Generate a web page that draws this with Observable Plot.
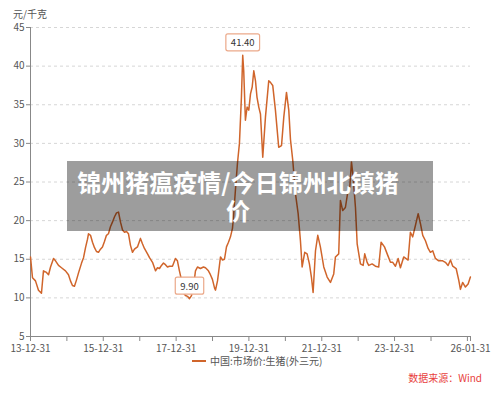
<!DOCTYPE html>
<html><head><meta charset="utf-8">
<script src="https://cdn.jsdelivr.net/npm/d3@7"></script>
<script src="https://cdn.jsdelivr.net/npm/@observablehq/plot@0.6"></script>
<style>
body{margin:0;background:#fff;font-family:"Noto Sans CJK SC","Noto Sans",sans-serif;}
#wrap{position:relative;width:500px;height:393px;overflow:hidden;background:#fff;}
#chart{position:absolute;left:0;top:0;}
#unit{position:absolute;left:13px;top:9px;font-size:10px;line-height:10px;color:#555;}
#legend{position:absolute;left:192px;top:355px;font-size:10px;line-height:12px;color:#555;white-space:nowrap;}
#legend .sw{display:inline-block;width:14px;height:2px;background:#d0652b;vertical-align:middle;margin-right:4px;position:relative;top:-1px;}
#source{position:absolute;right:18px;top:372px;font-size:10px;line-height:12px;color:#e8413c;}
#overlay{position:absolute;left:67px;top:161px;width:366px;height:70px;background:rgba(0,0,0,0.385);}
.tline{position:absolute;left:67px;width:342px;text-align:center;color:#fff;font-weight:bold;font-size:24px;line-height:24px;height:24px;white-space:nowrap;}
#t1{top:170px;}
#t2{top:198px;}
</style></head>
<body>
<div id="wrap">
  <div id="chart"></div>
  <div id="unit">元/千克</div>
  <div id="legend"><span class="sw"></span>中国:市场价:生猪(外三元)</div>
  <div id="source">数据来源：Wind</div>
  <div id="overlay"></div>
  <div class="tline" id="t1">锦州猪瘟疫情/今日锦州北镇猪</div>
  <div class="tline" id="t2">价</div>
</div>
<script>
const series = [
  ["2013-12-31",15.3],
  ["2014-01-20",12.6],["2014-02-19",12.2],["2014-03-21",11.0],["2014-04-20",10.6],["2014-05-10",13.5],["2014-06-09",13.3],
  ["2014-06-30",13.0],["2014-07-20",14.0],["2014-08-19",15.1],["2014-09-08",14.8],["2014-10-08",14.2],["2014-11-07",13.9],["2014-12-17",13.5],
  ["2015-01-16",13.0],["2015-02-05",12.2],["2015-02-25",11.6],["2015-03-17",11.5],["2015-04-06",12.3],["2015-04-26",13.2],
  ["2015-05-27",14.5],["2015-06-16",15.2],["2015-07-06",16.5],["2015-07-26",17.6],["2015-08-05",18.3],["2015-08-25",18.1],
  ["2015-09-14",17.2],["2015-10-04",16.5],["2015-10-24",16.0],["2015-11-13",15.9],["2015-12-03",16.3],["2015-12-23",16.6],
  ["2016-01-12",17.3],["2016-02-01",18.1],["2016-02-21",18.3],["2016-03-12",19.2],["2016-04-01",19.8],["2016-04-22",20.5],
  ["2016-05-12",21.0],["2016-06-01",21.1],["2016-06-21",19.8],["2016-07-11",18.8],["2016-07-31",18.5],["2016-08-20",18.6],
  ["2016-09-09",18.3],["2016-09-29",16.8],["2016-10-19",15.9],["2016-11-08",16.3],["2016-12-08",16.6],
  ["2017-01-07",17.7],["2017-01-27",17.0],["2017-02-16",16.4],["2017-03-19",15.7],["2017-04-08",15.2],["2017-05-08",14.6],
  ["2017-06-07",13.5],["2017-06-27",13.9],["2017-07-17",13.8],["2017-08-06",14.2],["2017-08-26",14.5],["2017-09-15",14.3],
  ["2017-10-05",14.0],["2017-10-25",14.1],["2017-11-24",14.1],["2017-12-24",15.1],
  ["2018-01-13",14.8],["2018-02-02",13.5],["2018-02-23",12.3],["2018-03-15",10.6],["2018-04-04",10.3],["2018-04-24",10.2],
  ["2018-05-14",9.9],["2018-06-03",10.3],["2018-06-23",11.5],["2018-07-13",13.5],["2018-08-02",14.0],["2018-09-01",13.8],
  ["2018-10-01",14.0],["2018-10-21",13.9],["2018-11-20",13.5],["2018-12-10",13.0],["2018-12-30",12.4],
  ["2019-01-20",11.3],["2019-01-30",11.0],["2019-02-19",12.2],["2019-03-01",13.2],["2019-03-21",15.3],["2019-04-10",14.9],
  ["2019-04-30",15.0],["2019-05-20",16.6],["2019-06-09",17.2],["2019-06-29",17.9],["2019-07-19",19.0],["2019-07-29",20.4],
  ["2019-08-18",24.0],["2019-09-07",27.4],["2019-09-27",30.0],["2019-10-07",33.0],["2019-10-17",36.0],["2019-10-30",41.4],
  ["2019-11-09",39.4],["2019-11-26",33.0],["2019-12-13",34.7],["2019-12-30",34.3],
  ["2020-01-16",36.4],["2020-02-02",37.3],["2020-02-18",39.4],["2020-03-06",38.1],["2020-03-21",36.0],["2020-04-08",34.7],
  ["2020-04-25",33.8],["2020-05-18",28.2],["2020-06-14",33.4],["2020-07-17",38.1],["2020-08-03",37.9],["2020-08-26",37.5],
  ["2020-09-22",34.3],["2020-10-25",29.5],["2020-11-22",29.7],["2020-12-15",33.4],
  ["2021-01-11",36.6],["2021-02-03",34.3],["2021-02-20",30.5],["2021-03-15",27.8],["2021-04-11",23.5],["2021-05-08",20.9],
  ["2021-05-31",17.4],["2021-06-17",14.0],["2021-07-13",15.9],["2021-08-06",15.7],["2021-08-29",14.4],["2021-09-18",12.7],
  ["2021-10-05",10.7],["2021-10-29",16.1],["2021-11-21",18.1],["2021-12-17",16.6],
  ["2022-01-20",14.0],["2022-02-23",12.7],["2022-03-28",12.0],["2022-04-30",13.1],["2022-05-17",15.3],["2022-06-19",15.7],
  ["2022-07-06",22.6],["2022-07-29",21.3],["2022-08-25",21.7],["2022-09-18",23.7],["2022-10-08",24.3],["2022-10-25",27.6],
  ["2022-11-11",25.6],["2022-12-04",21.7],["2022-12-21",17.0],
  ["2023-01-23",14.4],["2023-02-19",14.2],["2023-03-07",15.7],["2023-03-31",14.6],["2023-04-16",14.2],["2023-05-20",14.4],
  ["2023-06-22",14.1],["2023-07-25",14.0],["2023-08-18",17.2],["2023-09-21",16.6],["2023-10-24",15.5],["2023-11-20",14.6],
  ["2023-12-13",14.6],
  ["2024-01-09",14.1],["2024-02-05",15.1],["2024-02-28",13.9],["2024-04-01",15.3],["2024-05-15",14.9],["2024-06-07",18.5],
  ["2024-06-30",17.9],["2024-07-28",19.4],["2024-08-24",20.9],["2024-09-16",19.6],["2024-10-09",18.1],["2024-11-05",17.4],
  ["2024-12-02",16.4],["2024-12-25",15.9],
  ["2025-01-17",16.1],["2025-02-13",15.1],["2025-03-18",14.8],["2025-04-27",14.8],["2025-05-24",14.6],["2025-06-20",14.2],
  ["2025-07-14",14.9],["2025-08-06",14.1],["2025-09-09",13.8],["2025-10-05",12.3],["2025-10-22",11.1],["2025-11-13",12.0],
  ["2025-12-11",11.4],
  ["2026-01-07",11.8],["2026-01-30",12.7]
];
const xLabelTicks = ["2013-12-31","2015-12-31","2017-12-31","2019-12-31","2021-12-31","2023-12-31","2026-01-31"];
const xMinorTicks = ["2014-12-31","2016-12-31","2018-12-31","2020-12-31","2022-12-31","2024-12-31","2025-12-31"];
const xDomain = ["2013-12-31","2026-01-31"];
const yTicks = [5,10,15,20,25,30,35,40,45];
const yGridTicks = [10,15,20,25,30,35,40,45];

const lineColor = "#d0652b";
const data = series.map(([d,v]) => ({date: new Date(d), value: v}));
const maxPt = data.reduce((a,b) => b.value > a.value ? b : a);
const minPt = data.reduce((a,b) => b.value < a.value ? b : a);
const fmt = d3.utcFormat("%y-%m-%d");

const chart = Plot.plot({
  width: 500, height: 355,
  marginTop: 27, marginBottom: 19, marginLeft: 30, marginRight: 30,
  style: {fontFamily: '"Noto Sans CJK SC","Noto Sans",sans-serif', fontSize: "10px", background: "transparent", overflow: "visible"},
  x: {type: "utc", domain: xDomain.map(d => new Date(d))},
  y: {domain: [5, 45]},
  marks: [
    Plot.gridY(yGridTicks, {stroke: "#d6d6d6", strokeOpacity: 1, strokeDasharray: "3,3"}),
    Plot.axisY(yTicks, {tickSize: 4, tickPadding: 2, stroke: "#888", fill: "#555", label: null}),
    Plot.axisX(xLabelTicks.map(d => new Date(d)), {tickSize: 5, tickPadding: 3, tickFormat: fmt, stroke: "#888", fill: "#555", label: null}),
    Plot.axisX(xMinorTicks.map(d => new Date(d)), {tickSize: 5, tickFormat: () => "", stroke: "#888", label: null}),
    Plot.ruleY([5], {stroke: "#888"}),
    Plot.ruleX([new Date(xDomain[0])], {stroke: "#888"}),
    Plot.line(data, {x: "date", y: "value", stroke: lineColor, strokeWidth: 1.5}),
    Plot.text([maxPt, minPt], {x: "date", y: "value", text: d => d.value.toFixed(2), dy: -12, fill: "#333", fontSize: 9.5})
  ]
});
document.getElementById("chart").append(chart);

// draw the callout boxes around the value labels
const tgs = chart.querySelectorAll('g[aria-label="text"]');
const tg = tgs[tgs.length - 1];
tg.querySelectorAll("text").forEach(t => {
  const bb = t.getBBox();
  const r = document.createElementNS("http://www.w3.org/2000/svg", "rect");
  r.setAttribute("x", bb.x - 5);
  r.setAttribute("y", bb.y - 1.5);
  r.setAttribute("width", bb.width + 10);
  r.setAttribute("height", bb.height + 3);
  r.setAttribute("rx", 2);
  r.setAttribute("fill", "#fff");
  r.setAttribute("stroke", "#eba98a");
  r.setAttribute("stroke-width", 1.2);
  if (t.getAttribute("transform")) r.setAttribute("transform", t.getAttribute("transform"));
  tg.insertBefore(r, t);
});
</script>
</body></html>
